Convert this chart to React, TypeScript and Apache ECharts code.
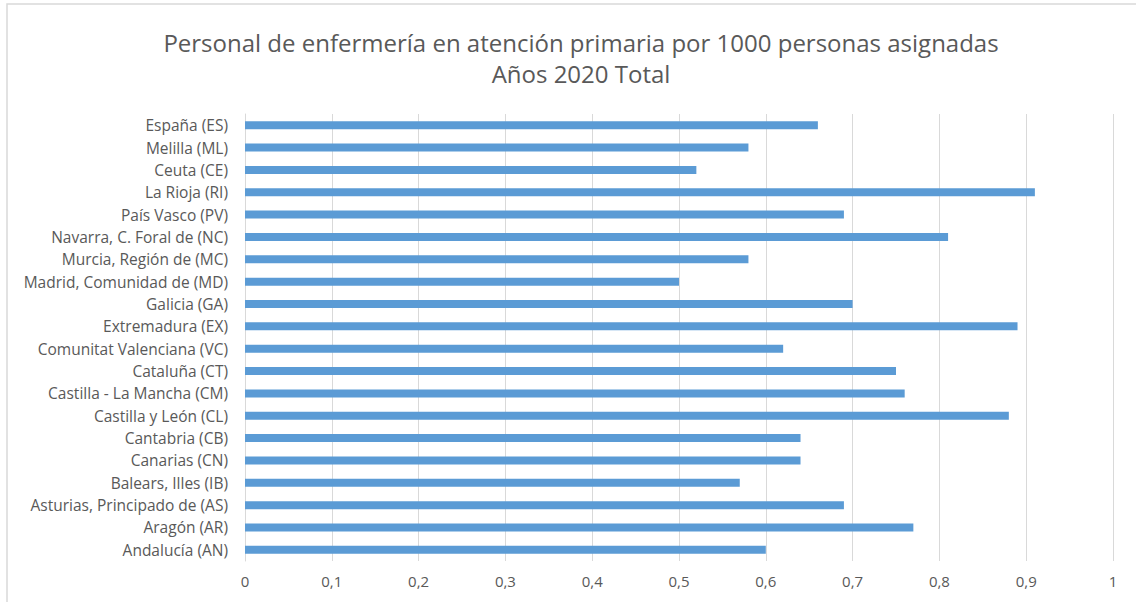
import React, { useEffect, useRef } from "react";
import * as echarts from "echarts";

const titleLines = [
  "Personal de enfermería en atención primaria por 1000 personas asignadas",
  "Años 2020 Total",
];

// top-to-bottom as in the picture
const categories = [
  "España (ES)",
  "Melilla (ML)",
  "Ceuta (CE)",
  "La Rioja (RI)",
  "País Vasco (PV)",
  "Navarra, C. Foral de (NC)",
  "Murcia, Región de (MC)",
  "Madrid, Comunidad de (MD)",
  "Galicia (GA)",
  "Extremadura (EX)",
  "Comunitat Valenciana (VC)",
  "Cataluña (CT)",
  "Castilla - La Mancha (CM)",
  "Castilla y León (CL)",
  "Cantabria (CB)",
  "Canarias (CN)",
  "Balears, Illes (IB)",
  "Asturias, Principado de (AS)",
  "Aragón (AR)",
  "Andalucía (AN)",
];

const values = [
  0.66, 0.58, 0.52, 0.91, 0.69, 0.81, 0.58, 0.5, 0.7, 0.89,
  0.62, 0.75, 0.76, 0.88, 0.64, 0.64, 0.57, 0.69, 0.77, 0.6,
];

const xMin = 0;
const xMax = 1;
const xInterval = 0.1;

const FONT = "'Open Sans', 'Noto Sans', sans-serif";
const TEXT = "#595959";
const GRID = "#d9d9d9";

export default function App() {
  const ref = useRef<HTMLDivElement>(null);
  useEffect(() => {
    if (!ref.current) return;
    const chart = echarts.init(ref.current, undefined, { renderer: "svg" });
    chart.setOption({
      animation: false,
      backgroundColor: "#ffffff",
      textStyle: { fontFamily: FONT },
      title: {
        text: titleLines.join("\n"),
        left: 576,
        textAlign: "center",
        top: 22,
        textStyle: {
          fontFamily: FONT,
          fontSize: 24,
          fontWeight: "normal",
          color: TEXT,
          lineHeight: 31,
        },
      },
      graphic: [
        {
          type: "rect",
          shape: { x: 7, y: 4, width: 1140, height: 610 },
          style: { fill: "none", stroke: GRID, lineWidth: 1.5 },
          silent: true,
          z: -1,
        },
      ],
      grid: { left: 245, right: 23, top: 114, bottom: 41, containLabel: false },
      xAxis: {
        type: "value",
        min: xMin,
        max: xMax,
        interval: xInterval,
        axisLine: { show: false },
        axisTick: { show: false },
        splitLine: { show: true, lineStyle: { color: GRID, width: 1 } },
        axisLabel: {
          color: TEXT,
          fontSize: 15,
          fontFamily: FONT,
          margin: 12,
          formatter: (v: number) => String(Math.round(v * 10) / 10).replace(".", ","),
        },
      },
      yAxis: {
        type: "category",
        data: categories,
        inverse: true,
        axisLine: { show: true, lineStyle: { color: GRID, width: 1 } },
        axisTick: { show: false },
        axisLabel: {
          color: TEXT,
          fontSize: 15.5,
          fontFamily: FONT,
          margin: 17,
        },
      },
      series: [
        {
          type: "bar",
          data: values,
          barWidth: 8,
          itemStyle: { color: "#5b9bd5" },
        },
      ],
    });
    return () => chart.dispose();
  }, []);
  return (
    <div
      ref={ref}
      style={{ position: "absolute", left: 0, top: 0, width: 1136, height: 602 }}
    />
  );
}
